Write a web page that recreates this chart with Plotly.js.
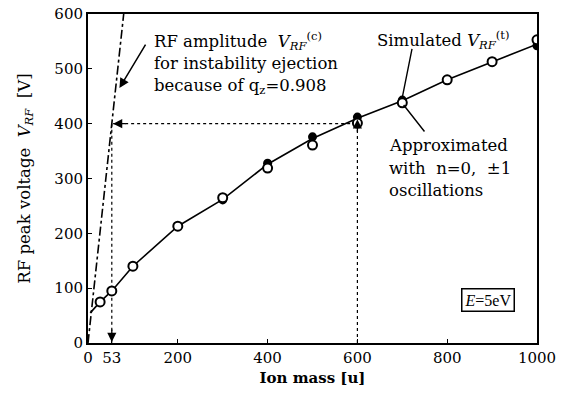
<!DOCTYPE html>
<html>
<head>
<meta charset="utf-8">
<script src="https://cdn.plot.ly/plotly-3.0.1.min.js"></script>
<style>html,body{margin:0;padding:0;background:#fff;}#chart{width:565px;height:403px;}</style>
</head>
<body>
<div id="chart"></div>
<script>
// ---- data ----
const massTickVals = [0, 53, 200, 400, 600, 800, 1000];
const massTickText = ["0", "53", "200", "400", "600", "800", "1000"];
const voltTickVals = [0, 100, 200, 300, 400, 500, 600];

const curveMass = [5, 27, 53, 100, 200, 300, 400, 500, 600, 700, 800, 900, 1000];
const curveV    = [55, 75, 95, 140, 213, 262, 326, 373, 410, 442, 480, 513, 545];

const simMass = [27, 53, 100, 200, 300, 400, 500, 600, 700, 800, 900, 1000];
const simV    = [75, 95, 140, 213, 261, 328, 376, 412, 443, 480, 513, 542];

const apxMass = [27, 53, 100, 200, 300, 400, 500, 600, 700, 800, 900, 1000];
const apxV    = [75, 95, 140, 213, 265, 319, 361, 401, 438, 480, 513, 553];

const ejectMass = [0, 79.5];
const ejectV    = [0, 600];

const qMass = 53;      // mass at which q_z = 0.908 for 400 V
const refMass = 600;   // reference ion mass
const refV = 400;      // RF voltage for reference mass

const serif = "Liberation Serif, Times New Roman, serif";
const dserif = "DejaVu Serif, serif";

const traces = [
  {x: ejectMass, y: ejectV, mode: "lines", line: {color: "black", width: 1.6, dash: "dashdot"}, hoverinfo: "skip"},
  {x: [refMass, refMass], y: [0, refV], mode: "lines", line: {color: "black", width: 1.2, dash: "dot"}, hoverinfo: "skip"},
  {x: [qMass + 3, refMass], y: [refV, refV], mode: "lines", line: {color: "black", width: 1.2, dash: "dot"}, hoverinfo: "skip"},
  {x: [qMass, qMass], y: [refV, 0], mode: "lines", line: {color: "black", width: 1.2, dash: "dot"}, hoverinfo: "skip"},
  {x: curveMass, y: curveV, mode: "lines", line: {color: "black", width: 1.6}, hoverinfo: "skip"},
  {x: simMass, y: simV, mode: "markers", marker: {symbol: "circle", size: 9, color: "black"}, name: "Simulated"},
  {x: apxMass, y: apxV, mode: "markers", marker: {symbol: "circle", size: 9, color: "white", line: {color: "black", width: 2}}, name: "Approximated"}
];

function label(text, px, py, size) {
  return {xref: "paper", yref: "paper", x: (px - 88) / 449, y: (343 - py) / 329,
          xanchor: "left", yanchor: "middle", showarrow: false, text: text,
          font: {family: dserif, size: size || 16.5, color: "black"}};
}

const layout = {
  width: 565, height: 403,
  margin: {l: 88, r: 28, t: 14, b: 60},
  paper_bgcolor: "white", plot_bgcolor: "white",
  showlegend: false,
  font: {family: dserif, color: "black", size: 15},
  xaxis: {
    range: [0, 1000], tickvals: massTickVals, ticktext: massTickText,
    showgrid: false, zeroline: false,
    showline: true, linecolor: "black", linewidth: 2, mirror: true,
    ticks: "inside", ticklen: 4, tickcolor: "black",
    tickfont: {family: dserif, size: 15, color: "black"},
    title: {text: "<b>Ion mass [u]</b>", font: {family: dserif, size: 15, color: "black"}, standoff: 6}
  },
  yaxis: {
    range: [0, 600], tickvals: voltTickVals,
    showgrid: false, zeroline: false,
    showline: true, linecolor: "black", linewidth: 2, mirror: true,
    ticks: "inside", ticklen: 4, tickcolor: "black",
    tickfont: {family: dserif, size: 15, color: "black"},
    title: {text: "RF peak voltage  <i>V</i><sub><i>RF</i></sub>  [V]", font: {family: dserif, size: 16.5, color: "black"}, standoff: 20}
  },
  annotations: [
    label("RF amplitude  <i>V</i><sub><i>RF</i></sub><sup>(c)</sup>", 152, 41),
    label("for instability ejection", 152, 63),
    label("because of q<sub>z</sub>=0.908", 152, 86),
    label("Simulated <i>V</i><sub><i>RF</i></sub><sup>(t)</sup>", 375, 40),
    label("Approximated", 387, 145),
    label("with  n=0,  ±1", 387, 168),
    label("oscillations", 387, 190),
    {xref: "paper", yref: "paper", x: (515 - 88) / 449, y: (343 - 300) / 329, xanchor: "right", yanchor: "middle", showarrow: false,
     text: "<i>E</i>=5eV", bordercolor: "black", borderwidth: 1.5, borderpad: 2,
     font: {family: serif, size: 16, color: "black"}},
    // arrow from text to eject line
    {x: 70, y: 465, ax: 27, ay: -45, xref: "x", yref: "y", text: "", showarrow: true,
     arrowhead: 2, arrowsize: 1.3, arrowwidth: 1.5, arrowcolor: "black"},
    // pointer lines simulated/approximated
    {x: 700, y: 448, ax: 10, ay: -50, text: "", showarrow: true, arrowhead: 0, arrowwidth: 1.4, arrowcolor: "black"},
    {x: 703, y: 434, ax: 22, ay: 28, text: "", showarrow: true, arrowhead: 0, arrowwidth: 1.4, arrowcolor: "black"},
    // dotted arrow heads
    {x: qMass + 3, y: refV, ax: 14, ay: 0, text: "", showarrow: true, arrowhead: 2, arrowsize: 1.4, arrowwidth: 1.3, arrowcolor: "black"},
    {x: refMass, y: refV + 8, ax: 0, ay: 14, text: "", showarrow: true, arrowhead: 2, arrowsize: 1.4, arrowwidth: 1.3, arrowcolor: "black"},
    {x: qMass, y: 2, ax: 0, ay: -14, text: "", showarrow: true, arrowhead: 2, arrowsize: 1.4, arrowwidth: 1.3, arrowcolor: "black"}
  ]
};

Plotly.newPlot("chart", traces, layout, {displayModeBar: false, staticPlot: true});
</script>
</body>
</html>
